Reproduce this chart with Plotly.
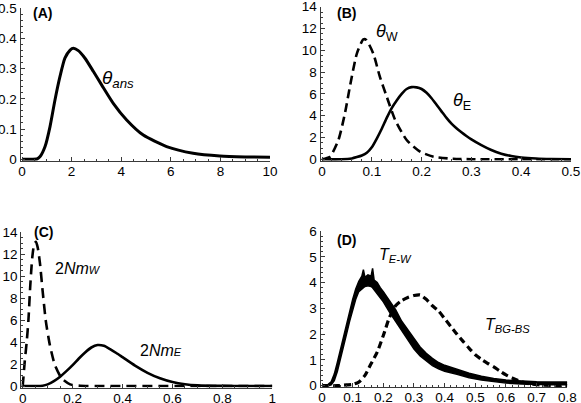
import plotly.graph_objects as go

# ---------------- data ----------------
# (A) theta_ans
A_x = [0, 0.4, 0.6, 0.73, 0.93, 1.13, 1.33, 1.53, 1.73, 1.94, 2.07, 2.27, 2.54, 2.88, 3.21, 3.68, 4.22, 4.89, 5.83, 6.9, 7.98, 9.0, 10]
A_y = [0, 0, 0.001, 0.009, 0.042, 0.108, 0.196, 0.273, 0.334, 0.361, 0.367, 0.359, 0.334, 0.29, 0.246, 0.185, 0.13, 0.08, 0.042, 0.02, 0.011, 0.008, 0.0066]

# (B) theta_W (dashed) and theta_E (solid)
BW_x = [0, 0.016, 0.033, 0.046, 0.056, 0.07, 0.083, 0.089, 0.103, 0.116, 0.13, 0.147, 0.17, 0.197, 0.224, 0.263, 0.3, 0.4, 0.5]
BW_y = [0, 0.24, 1.77, 4.2, 6.66, 9.7, 11.0, 10.95, 9.7, 7.6, 5.74, 3.6, 1.77, 0.7, 0.24, 0.05, 0.01, 0, 0]
BE_x = [0, 0.04, 0.06, 0.07, 0.08, 0.09, 0.10, 0.11, 0.12, 0.13, 0.14, 0.15, 0.16, 0.17, 0.18, 0.19, 0.20, 0.21, 0.22, 0.23, 0.24, 0.25, 0.26, 0.27, 0.28, 0.29, 0.30, 0.32, 0.34, 0.36, 0.38, 0.40, 0.43, 0.46, 0.5]
BE_y = [0, 0, 0.08, 0.2, 0.35, 0.6, 1.1, 1.9, 2.8, 3.8, 4.7, 5.4, 6.0, 6.45, 6.62, 6.6, 6.45, 6.1, 5.6, 5.0, 4.4, 3.8, 3.27, 2.85, 2.48, 2.14, 1.83, 1.3, 0.85, 0.52, 0.3, 0.17, 0.07, 0.025, 0]

# (C) 2Nm_W (dashed) and 2Nm_E (solid)
CW_x = [0, 0.003, 0.008, 0.016, 0.023, 0.03, 0.038, 0.046, 0.053, 0.06, 0.069, 0.08, 0.093, 0.109, 0.129, 0.156, 0.19, 0.23, 0.3, 1.0]
CW_y = [0, 0.8, 2.2, 4.0, 6.0, 9.0, 11.6, 12.9, 13.1, 12.6, 11.2, 8.6, 5.85, 3.7, 1.9, 0.7, 0.15, 0.02, 0, 0]
CE_x = [0, 0.05, 0.08, 0.1, 0.125, 0.15, 0.175, 0.2, 0.225, 0.25, 0.275, 0.3, 0.325, 0.35, 0.375, 0.4, 0.45, 0.5, 0.55, 0.6, 0.65, 0.7, 0.8, 0.9, 1.0]
CE_y = [0, 0, 0.03, 0.15, 0.45, 0.85, 1.35, 1.9, 2.5, 3.05, 3.5, 3.72, 3.65, 3.35, 3.0, 2.62, 1.85, 1.2, 0.7, 0.36, 0.16, 0.06, 0.01, 0, 0]

# (D) T_E-W (noisy solid band: upper / lower envelope) and T_BG-BS (dashed)
DEW_x = [0, 0.02, 0.03, 0.04, 0.05, 0.06, 0.07, 0.08, 0.09, 0.1, 0.11, 0.12, 0.13, 0.135, 0.14, 0.15, 0.16, 0.165, 0.17, 0.18, 0.19, 0.2, 0.22, 0.24, 0.26, 0.28, 0.3, 0.32, 0.34, 0.36, 0.38, 0.4, 0.44, 0.48, 0.52, 0.56, 0.6, 0.65, 0.7, 0.75, 0.8]
DEW_hi = [0.03, 0.05, 0.15, 0.45, 0.9, 1.4, 1.9, 2.4, 2.9, 3.35, 3.75, 4.05, 4.25, 4.5, 4.2, 4.3, 4.25, 4.55, 4.1, 4.0, 3.8, 3.65, 3.3, 2.95, 2.5, 2.15, 1.8, 1.5, 1.26, 1.06, 0.9, 0.79, 0.64, 0.48, 0.37, 0.28, 0.22, 0.18, 0.15, 0.14, 0.14]
DEW_lo = [0, 0, 0.03, 0.2, 0.55, 1.0, 1.5, 2.0, 2.5, 2.95, 3.35, 3.65, 3.75, 3.8, 3.85, 3.88, 3.85, 3.8, 3.72, 3.58, 3.42, 3.25, 2.85, 2.5, 2.1, 1.75, 1.42, 1.15, 0.95, 0.78, 0.65, 0.56, 0.44, 0.31, 0.22, 0.15, 0.1, 0.07, 0.05, 0.04, 0.04]
DB_x = [0, 0.05, 0.08, 0.1, 0.12, 0.14, 0.16, 0.18, 0.2, 0.22, 0.24, 0.26, 0.28, 0.3, 0.32, 0.34, 0.36, 0.38, 0.4, 0.42, 0.44, 0.46, 0.48, 0.5, 0.52, 0.54, 0.56, 0.58, 0.6, 0.62, 0.64, 0.66, 0.68, 0.7, 0.75, 0.8]
DB_y = [0, 0, 0.03, 0.05, 0.14, 0.4, 0.85, 1.3, 1.95, 2.65, 3.1, 3.3, 3.42, 3.5, 3.52, 3.35, 3.1, 2.9, 2.6, 2.3, 2.0, 1.72, 1.45, 1.2, 1.02, 0.87, 0.73, 0.57, 0.42, 0.3, 0.2, 0.12, 0.07, 0.04, 0.01, 0]

# ---------------- layout helpers ----------------
W, H = 581, 403
FONT = "Liberation Sans, Arial, Helvetica, sans-serif"
AXC = "#3a3a3a"


def place(pl, pr, xmin, xmax, pb, pt, ymin, ymax, pad=1.5):
    sx = (pr - pl) / (xmax - xmin)
    sy = (pb - pt) / (ymax - ymin)
    return dict(
        xdomain=[(pl - pad) / W, pr / W],
        xrange=[xmin - pad / sx, xmax],
        ydomain=[(H - (pb + pad)) / H, (H - pt) / H],
        yrange=[ymin - pad / sy, ymax],
    )


def axis(domain, rng, anchor, dtick, minor, **kw):
    d = dict(
        domain=domain, range=rng, anchor=anchor, automargin=False,
        showline=True, linecolor=AXC, linewidth=1,
        ticks="inside", ticklen=4, tickwidth=1, tickcolor=AXC,
        tick0=0, dtick=dtick, ticklabeloverflow="allow",
        minor=dict(ticks="inside", ticklen=2, tickwidth=0.8, tickcolor=AXC, dtick=minor, tick0=0),
        showgrid=False, zeroline=False,
        tickfont=dict(family=FONT, size=13.5, color="black"),
        fixedrange=True,
    )
    d.update(kw)
    return d


pA = place(22, 270, 0, 10, 159.3, 8, 0, 0.5)
pB = place(322, 571, 0, 0.5, 159.3, 6.7, 0, 14)
pC = place(22.7, 272.3, 0, 1, 386, 232, 0, 14)
pD = place(322, 567.3, 0, 0.8, 385.7, 231, 0, 6)

fig = go.Figure()

solid = dict(color="black", width=3, shape="spline", smoothing=0.6)

# A
fig.add_trace(go.Scatter(x=A_x, y=A_y, mode="lines", line=solid, xaxis="x", yaxis="y", showlegend=False))
# B
fig.add_trace(go.Scatter(x=BW_x, y=BW_y, mode="lines", line=dict(color="black", width=2.6, dash="9px,5px", shape="spline", smoothing=0.6), xaxis="x2", yaxis="y2", showlegend=False))
fig.add_trace(go.Scatter(x=BE_x, y=BE_y, mode="lines", line=dict(color="black", width=2.6, shape="spline", smoothing=0.6), xaxis="x2", yaxis="y2", showlegend=False))
# C
fig.add_trace(go.Scatter(x=CW_x, y=CW_y, mode="lines", line=dict(color="black", width=2.6, dash="10px,6px", shape="spline", smoothing=0.6), xaxis="x3", yaxis="y3", showlegend=False))
fig.add_trace(go.Scatter(x=CE_x, y=CE_y, mode="lines", line=dict(color="black", width=2.6, shape="spline", smoothing=0.6), xaxis="x3", yaxis="y3", showlegend=False))
# D
fig.add_trace(go.Scatter(x=DB_x, y=DB_y, mode="lines", line=dict(color="black", width=3.2, dash="7px,4px", shape="spline", smoothing=0.6), xaxis="x4", yaxis="y4", showlegend=False))
fig.add_trace(go.Scatter(x=DEW_x, y=DEW_lo, mode="lines", line=dict(color="black", width=1.5), xaxis="x4", yaxis="y4", showlegend=False))
fig.add_trace(go.Scatter(x=DEW_x, y=DEW_hi, mode="lines", line=dict(color="black", width=1.5), fill="tonexty", fillcolor="black", xaxis="x4", yaxis="y4", showlegend=False))

fig.update_layout(
    width=W, height=H, autosize=False,
    margin=dict(l=0, r=0, t=0, b=0),
    paper_bgcolor="white", plot_bgcolor="white",
    xaxis=axis(pA["xdomain"], pA["xrange"], "y", 2, 0.5, ticklabelstandoff=-2),
    yaxis=axis(pA["ydomain"], pA["yrange"], "x", 0.1, 0.02),
    xaxis2=axis(pB["xdomain"], pB["xrange"], "y2", 0.1, 0.02, ticklabelstandoff=-2),
    yaxis2=axis(pB["ydomain"], pB["yrange"], "x2", 2, 0.5),
    xaxis3=axis(pC["xdomain"], pC["xrange"], "y3", 0.2, 0.05, ticklabelstandoff=-2),
    yaxis3=axis(pC["ydomain"], pC["yrange"], "x3", 2, 0.5),
    xaxis4=axis(pD["xdomain"], pD["xrange"], "y4", 0.1, 0.02, ticklabelstandoff=-2),
    yaxis4=axis(pD["ydomain"], pD["yrange"], "x4", 1, 0.2),
)

ann_font = dict(family=FONT, color="black")


def ann(x, y, text, xr, yr, size):
    fig.add_annotation(x=x, y=y, xref=xr, yref=yr, text=text, showarrow=False,
                       xanchor="left", yanchor="middle", font=dict(size=size, **ann_font))


ann(0.36, 0.485, "<b>(A)</b>", "x", "y", 14)
ann(0.026, 13.4, "<b>(B)</b>", "x2", "y2", 14)
ann(0.036, 14.0, "<b>(C)</b>", "x3", "y3", 14)
ann(0.042, 5.65, "<b>(D)</b>", "x4", "y4", 14)

ann(3.15, 0.265, "<i>θ</i><sub><i>ans</i></sub>", "x", "y", 19)
ann(0.104, 11.6, "<i>θ</i><sub>W</sub>", "x2", "y2", 18)
ann(0.259, 5.3, "<i>θ</i><sub>E</sub>", "x2", "y2", 18)
ann(0.12, 10.7, "2<i>Nm</i><span style='font-size:11px'><i>W</i></span>", "x3", "y3", 16)
ann(0.46, 3.27, "2<i>Nm</i><span style='font-size:11px'><i>E</i></span>", "x3", "y3", 16)
ann(0.18, 5.05, "<i>T</i><sub><i>E-W</i></sub>", "x4", "y4", 16)
ann(0.525, 2.35, "<i>T</i><sub><i>BG-BS</i></sub>", "x4", "y4", 16)

fig.write_html("out.html", config={"displayModeBar": False},
               post_script="document.body.style.margin='0';document.body.style.overflow='hidden';")
